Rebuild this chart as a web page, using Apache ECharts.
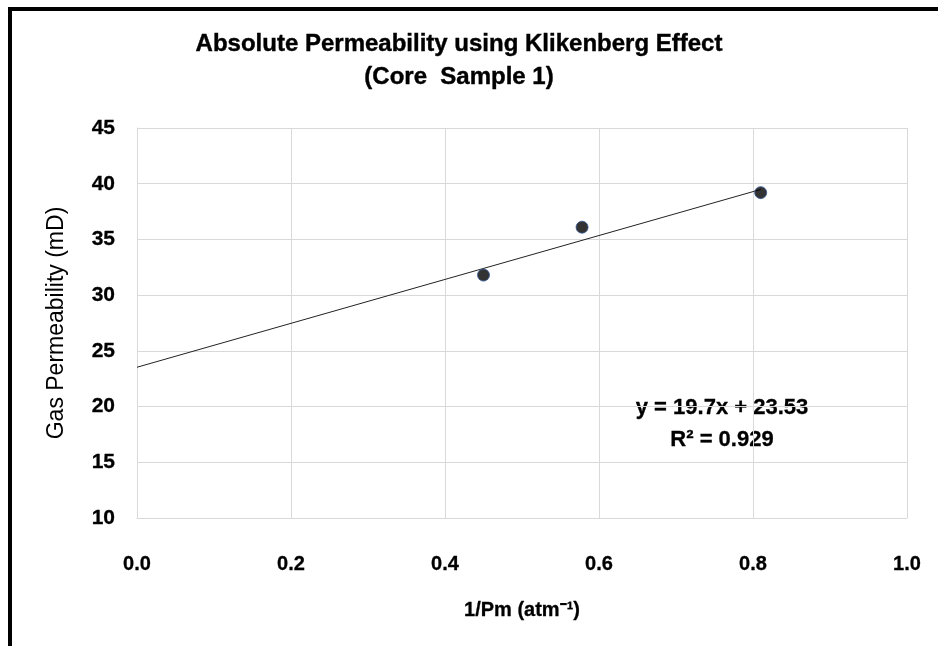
<!DOCTYPE html>
<html>
<head>
<meta charset="utf-8">
<script src="https://cdn.jsdelivr.net/npm/echarts@6/dist/echarts.min.js"></script>
<style>
  html, body { margin: 0; padding: 0; background: #fff; }
  #main { width: 938px; height: 646px; }
</style>
</head>
<body>
<div id="main"></div>
<script>
// 测量数据 (1/Pm, 气测渗透率)
var invPm = [0.45, 0.578, 0.81];
var gasPerm = [31.8, 36.1, 39.2];
// Excel 线性趋势线
var slope = 19.7;
var intercept = 23.53;
var r2 = 0.929;
var xTicks = [0.0, 0.2, 0.4, 0.6, 0.8, 1.0];
var yTicks = [10, 15, 20, 25, 30, 35, 40, 45];

var font = '"Liberation Sans", Arial, sans-serif';

var points = invPm.map(function (x, i) { return [x, gasPerm[i]]; });
var xMax = Math.max.apply(null, invPm);
var trend = [[0, intercept], [xMax, intercept + slope * xMax]];

var myChart = echarts.init(document.getElementById('main'));

var option = {
    backgroundColor: '#fff',
    animation: false,
    title: {
        text: 'Absolute Permeability using Klikenberg Effect\n(Core  Sample 1)',
        left: 454,
        textAlign: 'center',
        top: 23,
        textStyle: {
            fontFamily: font,
            fontSize: 24,
            fontWeight: 'bold',
            color: '#000',
            lineHeight: 33,
            textBorderColor: '#000',
            textBorderWidth: 0.4
        }
    },
    grid: {
        left: 137,
        right: 31,
        top: 128,
        bottom: 128
    },
    xAxis: {
        type: 'value',
        min: xTicks[0],
        max: xTicks[xTicks.length - 1],
        interval: 0.2,
        name: '1/Pm (atm⁻¹)',
        nameLocation: 'middle',
        nameGap: 82,
        nameTextStyle: {
            fontFamily: font, fontSize: 20, fontWeight: 'bold', color: '#000',
            textBorderColor: '#000', textBorderWidth: 0.3
        },
        axisLine: { show: true, lineStyle: { color: '#d9d9d9' } },
        axisTick: { show: false },
        splitLine: { show: true, lineStyle: { color: '#d9d9d9' } },
        axisLabel: {
            margin: 36,
            fontFamily: font,
            fontSize: 20,
            fontWeight: 'bold',
            color: '#000',
            textBorderColor: '#000',
            textBorderWidth: 0.3,
            formatter: function (v) { return v.toFixed(1); }
        }
    },
    yAxis: {
        type: 'value',
        min: yTicks[0],
        max: yTicks[yTicks.length - 1],
        interval: 5,
        name: 'Gas Permeability (mD)',
        nameLocation: 'middle',
        nameGap: 69,
        nameTextStyle: { fontFamily: font, fontSize: 23, color: '#000' },
        axisLine: { show: true, lineStyle: { color: '#d9d9d9' } },
        axisTick: { show: false },
        splitLine: { show: true, lineStyle: { color: '#d9d9d9' } },
        axisLabel: {
            margin: 22,
            fontFamily: font,
            fontSize: 21,
            fontWeight: 'bold',
            color: '#000',
            textBorderColor: '#000',
            textBorderWidth: 0.3
        }
    },
    graphic: [
        {
            type: 'rect',
            shape: { x: 10, y: 9, width: 940, height: 650 },
            style: { fill: 'none', stroke: '#000', lineWidth: 4 },
            z: 100
        },
        {
            type: 'text',
            x: 722,
            y: 392,
            style: {
                text: 'y = ' + slope + 'x + ' + intercept + '\nR² = ' + r2,
                align: 'center',
                font: 'bold 22px ' + font,
                fill: '#000',
                lineHeight: 32,
                stroke: '#000',
                lineWidth: 0.3
            }
        }
    ],
    series: [
        {
            name: 'trend',
            type: 'line',
            data: trend,
            symbol: 'none',
            lineStyle: { color: '#222', width: 1 },
            z: 2
        },
        {
            name: 'data',
            type: 'scatter',
            data: points,
            symbol: 'circle',
            symbolSize: 12,
            itemStyle: { color: '#000', borderColor: '#2f5597', borderWidth: 1 },
            z: 3
        }
    ]
};

myChart.setOption(option);
</script>
</body>
</html>
